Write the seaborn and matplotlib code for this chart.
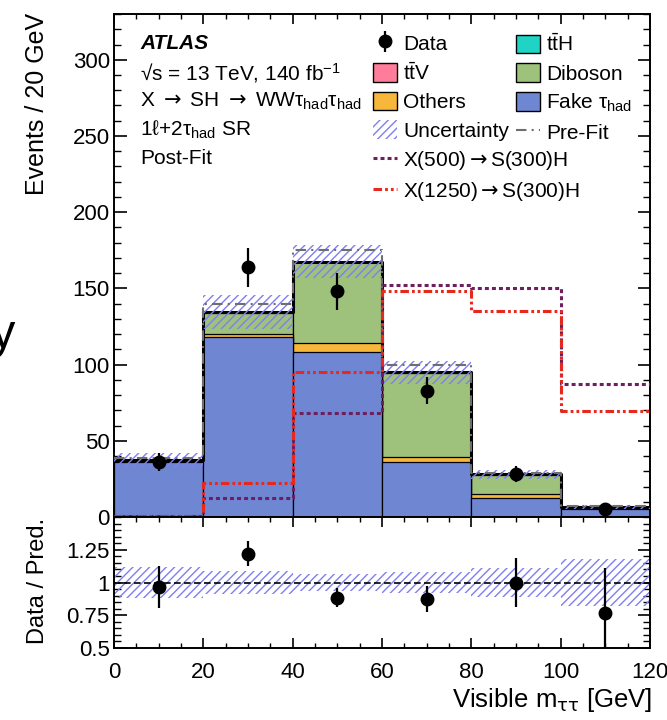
import numpy as np
import pandas as pd
import matplotlib
matplotlib.use("Agg")
import matplotlib.pyplot as plt
import seaborn as sns
from matplotlib.patches import Patch
from matplotlib.lines import Line2D
from matplotlib.ticker import MultipleLocator, FixedLocator, FixedFormatter

# ---- binning (visible m_tautau, GeV) ----
bin_edges = [0, 20, 40, 60, 80, 100, 120]

# ---- post-fit background yields per bin ----
fake_tau = [36.0, 118.0, 108.0, 36.0, 12.5, 5.0]
others = [0.6, 2.0, 6.0, 3.5, 2.5, 0.4]
diboson = [0.6, 14.0, 53.0, 55.0, 12.5, 1.0]
ttv = [0.1, 0.3, 0.3, 0.3, 0.3, 0.05]
tth = [0.1, 0.2, 0.1, 0.2, 0.2, 0.05]

# ---- pre-fit total, observed data, relative uncertainty ----
prefit = [39.0, 140.0, 175.0, 100.0, 29.0, 7.0]
data = [36, 164, 148, 83, 28, 5]
rel_unc = [0.12, 0.085, 0.065, 0.08, 0.11, 0.18]

# ---- signal hypotheses ----
sig_500 = [0.5, 12.5, 68.0, 152.0, 150.0, 87.0]
sig_1250 = [0.5, 22.0, 95.0, 148.0, 135.0, 69.5]

colors = {
    "Fake": "#6f86d3",
    "Others": "#f7b73a",
    "Diboson": "#9ec27b",
    "ttV": "#ff7d9b",
    "ttH": "#1fd3c5",
}
hatch_color = "#7f7ff2"
prefit_color = "#6e6e6e"
sig500_color = "#6e1f5e"
sig1250_color = "#e8271d"
hatch_style = "////"

sns.set_theme(style="ticks")
plt.rcParams.update({
    "font.family": ["Liberation Sans", "DejaVu Sans"],
    "mathtext.fontset": "custom",
    "mathtext.rm": "Liberation Sans",
    "mathtext.it": "Liberation Sans:italic",
    "mathtext.bf": "Liberation Sans:bold",
    "mathtext.sf": "DejaVu Sans",
    "hatch.linewidth": 1.0,
    "axes.linewidth": 1.4,
    "axes.edgecolor": "black",
    "xtick.color": "black",
    "ytick.color": "black",
    "text.color": "black",
    "axes.labelcolor": "black",
})

ARROW = "$\\mathsf{{\\rightarrow}}$"

edges = np.array(bin_edges, dtype=float)
centers = 0.5 * (edges[:-1] + edges[1:])
stack_layers = [
    ("Fake", fake_tau),
    ("Others", others),
    ("Diboson", diboson),
    ("ttV", ttv),
    ("ttH", tth),
]
cum = np.cumsum([np.array(v, dtype=float) for _, v in stack_layers], axis=0)
total = cum[-1]
unc = np.array(rel_unc)


def hist_frame(values):
    return pd.DataFrame({"m": centers, "w": np.asarray(values, dtype=float)})


def draw_hist(values, target, **kws):
    sns.histplot(data=hist_frame(values), x="m", weights="w",
                 bins=list(bin_edges), ax=target, **kws)


fig = plt.figure(figsize=(6.67, 7.2), dpi=100)
ax = fig.add_axes([0.1709, 0.2819, 0.8036, 0.6986])
rax = fig.add_axes([0.1709, 0.100, 0.8036, 0.1819])

# stacked backgrounds: draw cumulative layers from the top down
for i in reversed(range(len(stack_layers))):
    name = stack_layers[i][0]
    draw_hist(cum[i], ax, element="bars", fill=True, color=colors[name],
              alpha=1, edgecolor="black", linewidth=0.9, zorder=2)

# total post-fit outline
draw_hist(total, ax, element="step", fill=False, color="black",
          linewidth=2.2, zorder=3)

# uncertainty band
ax.stairs(total * (1 + unc), edges, baseline=total * (1 - unc), fill=True,
          facecolor="none", edgecolor=hatch_color, hatch=hatch_style,
          linewidth=0, zorder=4)

# pre-fit total
draw_hist(prefit, ax, element="step", fill=False, color=prefit_color,
          linewidth=1.5, linestyle=(0, (5, 2.5, 1, 2.5)), zorder=4)

# signals
draw_hist(sig_500, ax, element="step", fill=False, color=sig500_color,
          linewidth=2.2, linestyle=(0, (1.3, 1.0)), zorder=5)
draw_hist(sig_1250, ax, element="step", fill=False, color=sig1250_color,
          linewidth=2.2, linestyle=(0, (2.8, 1.0, 0.9, 1.0, 0.9, 1.0)),
          zorder=5)

# data
data_arr = np.array(data, dtype=float)
data_err = ax.errorbar(centers, data_arr, yerr=np.sqrt(data_arr), fmt="o",
                       color="black", markersize=9, elinewidth=1.6, capsize=0,
                       zorder=10)

ax.set_xlim(0, 120)
ax.set_ylim(0, 330)
ax.set_xlabel("")
ax.set_ylabel("Events / 20 GeV", fontsize=18, loc="top")
ax.yaxis.set_label_coords(-0.121, 1.002)
ax.yaxis.set_major_locator(MultipleLocator(50))
ax.yaxis.set_minor_locator(MultipleLocator(10))
ax.xaxis.set_major_locator(MultipleLocator(20))
ax.xaxis.set_minor_locator(MultipleLocator(5))
ax.tick_params(axis="both", which="both", direction="in", top=True, right=True,
               labelsize=16, pad=3)
ax.tick_params(axis="y", which="major", length=9, width=1.2)
ax.tick_params(axis="y", which="minor", length=5, width=1.0)
ax.tick_params(axis="x", which="major", length=7, width=1.2)
ax.tick_params(axis="x", which="minor", length=3.5, width=1.0)
ax.tick_params(axis="x", labelbottom=False)

# text block
txt_x = 0.0485
ax.text(txt_x, 0.942, "ATLAS", transform=ax.transAxes, fontsize=15,
        fontweight="bold", fontstyle="italic", va="center")
ax.text(txt_x, 0.883, "√s = 13 TeV, 140 fb$^{\\mathregular{-1}}$",
        transform=ax.transAxes, fontsize=15, va="center")
ax.text(txt_x, 0.826,
        f"X {ARROW} SH {ARROW} WWτ$_{{\\mathregular{{had}}}}$τ$_{{\\mathregular{{had}}}}$",
        transform=ax.transAxes, fontsize=15, va="center")
ax.text(txt_x, 0.769, "1ℓ+2τ$_{\\mathregular{had}}$ SR",
        transform=ax.transAxes, fontsize=15, va="center")
ax.text(txt_x, 0.712, "Post-Fit", transform=ax.transAxes, fontsize=15,
        va="center")

# legend, first column
h_unc = Patch(facecolor="none", edgecolor=hatch_color, hatch=hatch_style,
              linewidth=0)
col1_handles = [
    data_err,
    Patch(facecolor=colors["ttV"], edgecolor="black", linewidth=1),
    Patch(facecolor=colors["Others"], edgecolor="black", linewidth=1),
    h_unc,
    Line2D([], [], color=sig500_color, lw=2.2, ls=(0, (1.3, 1.0))),
    Line2D([], [], color=sig1250_color, lw=2.2,
           ls=(0, (2.8, 1.0, 0.9, 1.0, 0.9, 1.0))),
]
col1_labels = ["Data", "t$\\mathregular{\\bar{t}}$V", "Others", "Uncertainty",
               f"X(500){ARROW}S(300)H", f"X(1250){ARROW}S(300)H"]
leg_kw = dict(frameon=False, fontsize=15, handlelength=1.15, handleheight=1.0,
              handletextpad=0.3, labelspacing=0.39, borderpad=0,
              borderaxespad=0, loc="upper left")
leg1 = ax.legend(col1_handles, col1_labels, bbox_to_anchor=(0.483, 0.962),
                 **leg_kw)
ax.add_artist(leg1)

col2_handles = [
    Patch(facecolor=colors["ttH"], edgecolor="black", linewidth=1),
    Patch(facecolor=colors["Diboson"], edgecolor="black", linewidth=1),
    Patch(facecolor=colors["Fake"], edgecolor="black", linewidth=1),
    Line2D([], [], color=prefit_color, lw=1.5, ls=(0, (5, 2.5, 1, 2.5))),
]
col2_labels = ["t$\\mathregular{\\bar{t}}$H", "Diboson",
               "Fake τ$_{\\mathregular{had}}$", "Pre-Fit"]
ax.legend(col2_handles, col2_labels, bbox_to_anchor=(0.75, 0.962), **leg_kw)

# ---- ratio panel ----
ratio = data_arr / total
ratio_err = np.sqrt(data_arr) / total
rax.stairs(1 + unc, edges, baseline=1 - unc, fill=True, facecolor="none",
           edgecolor=hatch_color, hatch=hatch_style, linewidth=0, zorder=2)
rax.axhline(1.0, color="black", lw=1.2, ls=(0, (4, 2)), zorder=3)
rax.errorbar(centers, ratio, yerr=ratio_err, fmt="o", color="black",
             markersize=9, elinewidth=1.6, capsize=0, zorder=10)
rax.set_xlim(0, 120)
rax.set_ylim(0.5, 1.5)
rax.yaxis.set_major_locator(FixedLocator([0.5, 0.75, 1.0, 1.25]))
rax.yaxis.set_major_formatter(FixedFormatter(["0.5", "0.75", "1", "1.25"]))
rax.yaxis.set_minor_locator(MultipleLocator(0.05))
rax.xaxis.set_major_locator(MultipleLocator(20))
rax.xaxis.set_minor_locator(MultipleLocator(5))
rax.tick_params(axis="both", which="both", direction="in", top=True,
                right=True, labelsize=16)
rax.tick_params(axis="y", which="major", length=9, width=1.2, pad=3)
rax.tick_params(axis="y", which="minor", length=5, width=1.0)
rax.tick_params(axis="x", which="major", length=7, width=1.2, pad=10)
rax.tick_params(axis="x", which="minor", length=3.5, width=1.0)
rax.set_ylabel("Data / Pred.", fontsize=17)
rax.yaxis.set_label_coords(-0.121, 0.515)
rax.set_xlabel("Visible m$_{\\mathsf{\\tau\\tau}}$ [GeV]", fontsize=18.5,
               loc="right")
rax.xaxis.set_label_coords(1.005, -0.29)

# clipped glyph at the left margin
fig.text(-0.0135, 1 - 348 / 720, "y", fontsize=35, va="baseline", ha="left")

fig.savefig("out.png", dpi=100)
